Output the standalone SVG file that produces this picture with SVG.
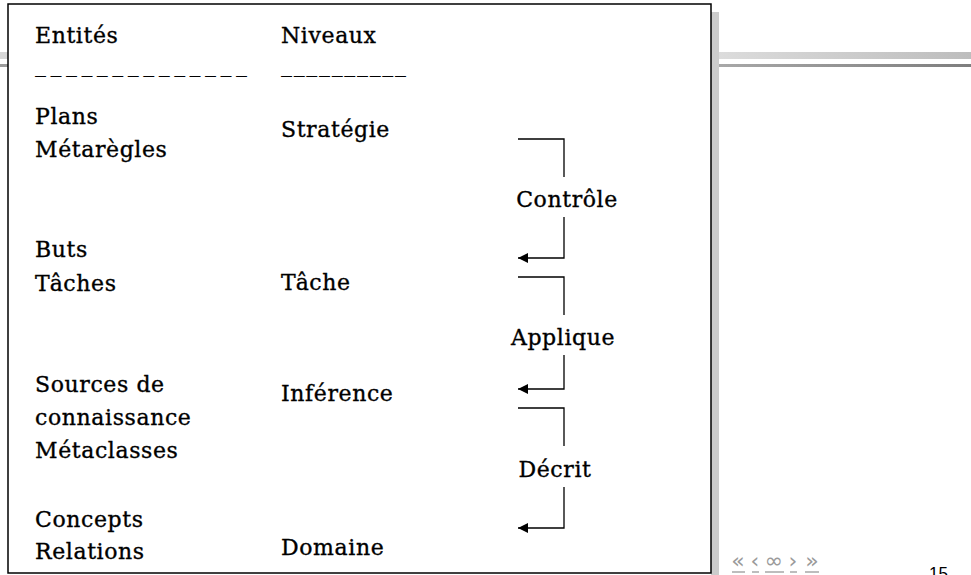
<svg xmlns="http://www.w3.org/2000/svg" width="971" height="575" viewBox="0 0 971 575">
  <style>
    .t { font-family: "DejaVu Serif", "Liberation Serif", serif; font-size: 22px; letter-spacing: 0.6px; fill: #000; stroke: #000; stroke-width: 0.35; }
    .lbl { text-anchor: middle; }
    .rule { font-family: "DejaVu Serif", "Liberation Serif", serif; font-size: 22px; fill: #000; }
    .conn { fill: none; stroke: #000; stroke-width: 1.3; }
    .nav { font-family: "DejaVu Sans", "Liberation Sans", sans-serif; font-size: 22px; fill: #9a9a9a; text-anchor: middle; }
    .navline { stroke: #bdbdbd; stroke-width: 2; }
  </style>
  <defs>
    <linearGradient id="barLight" x1="0" y1="0" x2="1" y2="0">
      <stop offset="0" stop-color="#dcdcdc"/>
      <stop offset="1" stop-color="#bdbdbd"/>
    </linearGradient>
    <linearGradient id="barDark" x1="0" y1="0" x2="1" y2="0">
      <stop offset="0" stop-color="#a8a8a8"/>
      <stop offset="1" stop-color="#7e7e7e"/>
    </linearGradient>
    <marker id="arrow" viewBox="0 0 10 10" refX="10" refY="5" markerWidth="11" markerHeight="10" markerUnits="userSpaceOnUse" orient="auto">
      <path d="M0,0 L10,5 L0,10 z" fill="#000"/>
    </marker>
  </defs>

  <rect width="971" height="575" fill="#fff"/>

  <!-- slide header bars and frame shadow -->
  <g id="header-bars">
    <rect x="0" y="52" width="8" height="7" fill="#d6d6d6"/>
    <rect x="0" y="64" width="8" height="3" fill="#9c9c9c"/>
    <rect x="719" y="52" width="252" height="7" fill="url(#barLight)"/>
    <rect x="719" y="64" width="252" height="3" fill="url(#barDark)"/>
    <rect x="711" y="12" width="8" height="563" fill="#cccccc"/>
  </g>

  <!-- framed table -->
  <rect id="frame" x="8" y="4" width="703" height="569" fill="#fff" stroke="#000" stroke-width="1.5"/>

  <g id="headers">
    <text class="t" x="35" y="43">Entités</text>
    <text class="t" x="281" y="43">Niveaux</text>
    <text class="rule" x="35" y="72" textLength="212" lengthAdjust="spacing">______________</text>
    <text class="rule" x="281" y="72" textLength="125" lengthAdjust="spacing">__________</text>
  </g>

  <g id="entites">
    <text class="t" x="35" y="124">Plans</text>
    <text class="t" x="35" y="157">Métarègles</text>
    <text class="t" x="35" y="257">Buts</text>
    <text class="t" x="35" y="291">Tâches</text>
    <text class="t" x="35" y="392">Sources de</text>
    <text class="t" x="35" y="425">connaissance</text>
    <text class="t" x="35" y="458">Métaclasses</text>
    <text class="t" x="35" y="527">Concepts</text>
    <text class="t" x="35" y="559">Relations</text>
  </g>

  <g id="niveaux">
    <text class="t" x="281" y="137">Stratégie</text>
    <text class="t" x="281" y="290">Tâche</text>
    <text class="t" x="281" y="401">Inférence</text>
    <text class="t" x="281" y="555">Domaine</text>
  </g>

  <g id="connectors">
    <path class="conn" d="M518,139 H564 V177"/>
    <path class="conn" d="M564,217 V258 H518" marker-end="url(#arrow)"/>
    <path class="conn" d="M518,277 H564 V315"/>
    <path class="conn" d="M564,355 V389 H518" marker-end="url(#arrow)"/>
    <path class="conn" d="M518,408 H564 V446"/>
    <path class="conn" d="M564,487 V528 H518" marker-end="url(#arrow)"/>
  </g>

  <g id="relations">
    <text class="t lbl" x="567" y="207">Contrôle</text>
    <text class="t lbl" x="563" y="345">Applique</text>
    <text class="t lbl" x="555" y="477">Décrit</text>
  </g>

  <g id="navigation">
    <text class="nav" x="738" y="568">«</text>
    <text class="nav" x="755" y="568">‹</text>
    <text class="nav" x="774" y="568">∞</text>
    <text class="nav" x="793" y="568">›</text>
    <text class="nav" x="812" y="568">»</text>
    <line class="navline" x1="732" y1="572" x2="745" y2="572"/>
    <line class="navline" x1="752" y1="572" x2="759" y2="572"/>
    <line class="navline" x1="765" y1="572" x2="784" y2="572"/>
    <line class="navline" x1="790" y1="572" x2="797" y2="572"/>
    <line class="navline" x1="805" y1="572" x2="819" y2="572"/>
    <text x="929" y="579" font-family="Liberation Sans, Arial, sans-serif" font-size="17" fill="#000">15</text>
  </g>
</svg>
